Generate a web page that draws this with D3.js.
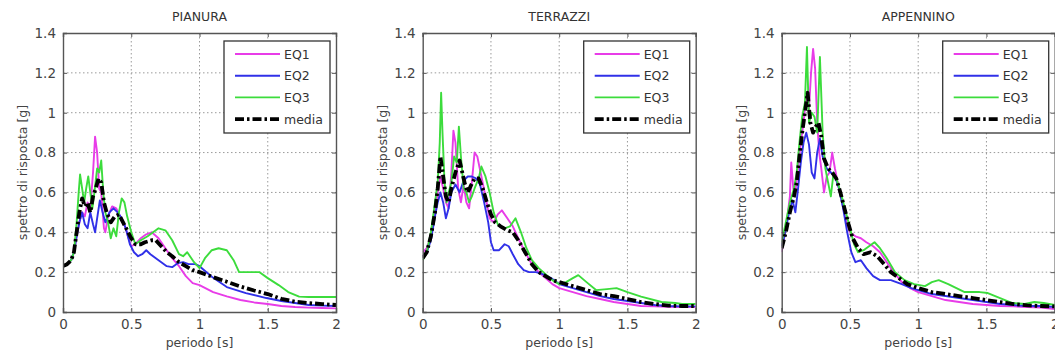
<!DOCTYPE html>
<html>
<head>
<meta charset="utf-8">
<script src="https://cdn.jsdelivr.net/npm/d3@7"></script>
<style>
  html, body { margin: 0; padding: 0; background: #fff; }
  svg { display: block; font-family: "DejaVu Sans", "Liberation Sans", Arial, sans-serif; }
</style>
</head>
<body>
<svg id="chart" width="1055" height="358"></svg>
<script>
// ---------------- DATA ----------------
const panelTitles = ["PIANURA", "TERRAZZI", "APPENNINO"];
const seriesNames = ["EQ1", "EQ2", "EQ3", "media"];
const periodTicks = [0, 0.5, 1, 1.5, 2];
const valueTicks = [0, 0.2, 0.4, 0.6, 0.8, 1, 1.2, 1.4];
const xLabel = "periodo [s]";
const yLabel = "spettro di risposta [g]";

// [periodo (s), spettro (g)]
const pianuraEQ1 = [[0,0.23],[0.03,0.24],[0.06,0.26],[0.08,0.3],[0.1,0.38],[0.12,0.45],[0.14,0.5],[0.16,0.48],[0.18,0.55],[0.2,0.52],[0.22,0.7],[0.235,0.88],[0.25,0.8],[0.265,0.62],[0.28,0.6],[0.3,0.42],[0.31,0.4],[0.33,0.48],[0.36,0.53],[0.39,0.52],[0.42,0.48],[0.45,0.44],[0.48,0.37],[0.5,0.33],[0.53,0.34],[0.57,0.37],[0.61,0.39],[0.65,0.4],[0.7,0.37],[0.75,0.32],[0.8,0.27],[0.85,0.23],[0.9,0.18],[0.95,0.145],[1.0,0.135],[1.1,0.1],[1.2,0.078],[1.3,0.06],[1.4,0.048],[1.5,0.04],[1.6,0.03],[1.7,0.025],[1.8,0.022],[1.9,0.02],[2.0,0.018]];
const pianuraEQ2 = [[0,0.23],[0.03,0.24],[0.06,0.26],[0.08,0.3],[0.1,0.38],[0.12,0.45],[0.14,0.5],[0.16,0.44],[0.18,0.42],[0.2,0.5],[0.22,0.44],[0.235,0.4],[0.25,0.47],[0.27,0.56],[0.29,0.5],[0.31,0.45],[0.34,0.5],[0.37,0.52],[0.4,0.5],[0.43,0.47],[0.46,0.42],[0.49,0.34],[0.52,0.3],[0.55,0.28],[0.58,0.29],[0.61,0.31],[0.64,0.29],[0.68,0.27],[0.72,0.25],[0.76,0.23],[0.8,0.225],[0.84,0.245],[0.88,0.25],[0.92,0.24],[0.97,0.24],[1.0,0.23],[1.09,0.177],[1.2,0.125],[1.34,0.095],[1.49,0.07],[1.6,0.055],[1.7,0.045],[1.8,0.035],[1.9,0.032],[2.0,0.03]];
const pianuraEQ3 = [[0,0.23],[0.03,0.24],[0.06,0.26],[0.08,0.3],[0.1,0.45],[0.115,0.6],[0.125,0.69],[0.14,0.62],[0.155,0.55],[0.17,0.62],[0.185,0.68],[0.2,0.6],[0.215,0.52],[0.23,0.6],[0.25,0.72],[0.265,0.7],[0.28,0.76],[0.295,0.6],[0.31,0.5],[0.33,0.45],[0.35,0.37],[0.37,0.42],[0.39,0.38],[0.41,0.5],[0.43,0.57],[0.45,0.55],[0.47,0.48],[0.5,0.4],[0.53,0.34],[0.57,0.36],[0.62,0.38],[0.66,0.4],[0.7,0.42],[0.75,0.41],[0.8,0.36],[0.85,0.29],[0.88,0.28],[0.91,0.3],[0.96,0.25],[1.0,0.22],[1.04,0.27],[1.09,0.31],[1.14,0.32],[1.2,0.31],[1.25,0.26],[1.29,0.2],[1.35,0.2],[1.44,0.2],[1.5,0.17],[1.58,0.135],[1.65,0.1],[1.73,0.077],[1.8,0.075],[2.0,0.075]];
const pianuraMedia = [[0,0.23],[0.03,0.24],[0.06,0.26],[0.08,0.3],[0.1,0.4],[0.12,0.5],[0.14,0.57],[0.16,0.53],[0.18,0.55],[0.2,0.5],[0.22,0.58],[0.24,0.62],[0.26,0.67],[0.28,0.65],[0.3,0.55],[0.32,0.5],[0.35,0.45],[0.38,0.48],[0.41,0.49],[0.44,0.45],[0.47,0.41],[0.5,0.37],[0.53,0.34],[0.57,0.34],[0.6,0.35],[0.65,0.36],[0.68,0.36],[0.72,0.33],[0.76,0.3],[0.8,0.28],[0.85,0.25],[0.9,0.23],[0.95,0.21],[1.0,0.2],[1.1,0.175],[1.2,0.152],[1.3,0.128],[1.4,0.108],[1.5,0.09],[1.6,0.066],[1.7,0.052],[1.8,0.045],[1.9,0.04],[2.0,0.035]];

const terrazziEQ1 = [[0,0.3],[0.03,0.32],[0.06,0.38],[0.09,0.5],[0.11,0.6],[0.13,0.68],[0.15,0.62],[0.17,0.55],[0.19,0.52],[0.21,0.7],[0.225,0.91],[0.24,0.85],[0.26,0.62],[0.28,0.55],[0.3,0.64],[0.32,0.55],[0.34,0.52],[0.36,0.65],[0.38,0.8],[0.4,0.78],[0.43,0.68],[0.46,0.58],[0.49,0.47],[0.52,0.45],[0.55,0.49],[0.58,0.51],[0.62,0.47],[0.66,0.43],[0.7,0.37],[0.75,0.3],[0.8,0.24],[0.85,0.2],[0.9,0.17],[0.95,0.14],[1.0,0.12],[1.1,0.1],[1.2,0.08],[1.3,0.065],[1.4,0.05],[1.5,0.04],[1.6,0.03],[1.7,0.028],[1.8,0.026],[1.9,0.025],[2.0,0.025]];
const terrazziEQ2 = [[0,0.28],[0.03,0.3],[0.06,0.36],[0.09,0.48],[0.11,0.55],[0.13,0.6],[0.15,0.55],[0.17,0.47],[0.19,0.52],[0.21,0.6],[0.24,0.64],[0.27,0.6],[0.3,0.66],[0.33,0.68],[0.36,0.68],[0.39,0.67],[0.42,0.64],[0.45,0.55],[0.48,0.45],[0.5,0.35],[0.52,0.31],[0.56,0.31],[0.6,0.34],[0.63,0.33],[0.66,0.29],[0.7,0.24],[0.74,0.21],[0.78,0.2],[0.83,0.2],[0.88,0.19],[0.94,0.17],[1.0,0.14],[1.1,0.12],[1.2,0.1],[1.3,0.08],[1.4,0.065],[1.5,0.055],[1.6,0.045],[1.7,0.035],[1.8,0.03],[1.9,0.028],[2.0,0.028]];
const terrazziEQ3 = [[0,0.26],[0.03,0.3],[0.06,0.4],[0.09,0.55],[0.11,0.65],[0.125,0.85],[0.135,1.1],[0.145,0.9],[0.16,0.65],[0.175,0.55],[0.19,0.6],[0.21,0.65],[0.23,0.78],[0.25,0.75],[0.265,0.93],[0.28,0.78],[0.3,0.62],[0.32,0.6],[0.34,0.55],[0.36,0.58],[0.38,0.62],[0.41,0.67],[0.43,0.73],[0.46,0.68],[0.49,0.6],[0.52,0.5],[0.55,0.44],[0.6,0.42],[0.64,0.43],[0.68,0.47],[0.72,0.4],[0.76,0.32],[0.8,0.26],[0.85,0.22],[0.9,0.19],[0.95,0.16],[1.0,0.14],[1.05,0.15],[1.1,0.17],[1.14,0.185],[1.2,0.15],[1.27,0.11],[1.35,0.115],[1.42,0.12],[1.5,0.1],[1.6,0.077],[1.75,0.05],[1.85,0.045],[1.9,0.04],[2.0,0.04]];
const terrazziMedia = [[0,0.27],[0.03,0.3],[0.06,0.38],[0.09,0.5],[0.11,0.62],[0.13,0.78],[0.15,0.68],[0.17,0.58],[0.19,0.55],[0.21,0.62],[0.24,0.7],[0.27,0.76],[0.29,0.7],[0.31,0.64],[0.33,0.6],[0.35,0.63],[0.38,0.67],[0.41,0.67],[0.44,0.62],[0.47,0.55],[0.5,0.49],[0.53,0.45],[0.57,0.43],[0.62,0.41],[0.66,0.4],[0.7,0.36],[0.75,0.3],[0.8,0.24],[0.85,0.2],[0.9,0.18],[0.95,0.16],[1.0,0.15],[1.1,0.13],[1.2,0.11],[1.3,0.09],[1.4,0.08],[1.5,0.065],[1.6,0.05],[1.7,0.04],[1.8,0.032],[1.9,0.03],[2.0,0.03]];

const appenninoEQ1 = [[0,0.3],[0.02,0.38],[0.04,0.47],[0.06,0.58],[0.07,0.75],[0.085,0.62],[0.1,0.6],[0.12,0.72],[0.14,0.85],[0.16,0.95],[0.18,1.1],[0.2,1.02],[0.215,1.2],[0.23,1.32],[0.245,1.22],[0.26,0.95],[0.275,0.8],[0.29,0.72],[0.31,0.6],[0.33,0.68],[0.35,0.7],[0.37,0.8],[0.39,0.72],[0.41,0.65],[0.44,0.56],[0.47,0.46],[0.5,0.4],[0.54,0.38],[0.58,0.37],[0.62,0.35],[0.67,0.33],[0.72,0.3],[0.77,0.25],[0.82,0.2],[0.88,0.15],[0.94,0.12],[1.0,0.1],[1.1,0.08],[1.2,0.06],[1.3,0.05],[1.4,0.04],[1.5,0.035],[1.6,0.03],[1.7,0.028],[1.8,0.025],[1.9,0.022],[2.0,0.015]];
const appenninoEQ2 = [[0,0.33],[0.02,0.38],[0.04,0.45],[0.06,0.52],[0.08,0.56],[0.1,0.5],[0.12,0.62],[0.14,0.75],[0.16,0.85],[0.18,0.9],[0.2,0.84],[0.22,0.7],[0.24,0.67],[0.26,0.8],[0.28,0.87],[0.3,0.78],[0.33,0.72],[0.36,0.7],[0.39,0.68],[0.42,0.62],[0.45,0.52],[0.48,0.4],[0.51,0.3],[0.54,0.25],[0.58,0.26],[0.62,0.22],[0.67,0.18],[0.72,0.16],[0.8,0.16],[0.88,0.14],[0.95,0.12],[1.0,0.11],[1.1,0.09],[1.2,0.08],[1.3,0.07],[1.4,0.06],[1.5,0.05],[1.6,0.04],[1.7,0.035],[1.8,0.03],[1.9,0.03],[2.0,0.025]];
const appenninoEQ3 = [[0,0.35],[0.03,0.45],[0.06,0.55],[0.09,0.62],[0.11,0.7],[0.13,0.85],[0.15,0.98],[0.17,1.05],[0.185,1.33],[0.2,0.95],[0.22,1.0],[0.24,0.98],[0.26,0.9],[0.28,1.28],[0.3,0.9],[0.32,0.72],[0.34,0.65],[0.36,0.58],[0.38,0.7],[0.41,0.65],[0.44,0.58],[0.47,0.5],[0.5,0.42],[0.53,0.34],[0.56,0.3],[0.6,0.31],[0.64,0.33],[0.68,0.35],[0.72,0.32],[0.77,0.27],[0.83,0.2],[0.9,0.16],[0.97,0.14],[1.05,0.13],[1.1,0.15],[1.15,0.16],[1.22,0.14],[1.34,0.1],[1.45,0.1],[1.51,0.095],[1.6,0.07],[1.69,0.045],[1.78,0.04],[1.85,0.05],[1.92,0.045],[2.0,0.035]];
const appenninoMedia = [[0,0.32],[0.03,0.4],[0.06,0.5],[0.09,0.58],[0.11,0.65],[0.13,0.78],[0.15,0.9],[0.17,1.0],[0.19,1.1],[0.21,0.95],[0.23,0.9],[0.25,0.93],[0.27,0.95],[0.29,0.88],[0.31,0.77],[0.34,0.72],[0.37,0.7],[0.4,0.67],[0.43,0.6],[0.46,0.52],[0.49,0.44],[0.52,0.37],[0.56,0.32],[0.6,0.29],[0.65,0.3],[0.7,0.28],[0.75,0.24],[0.8,0.2],[0.86,0.17],[0.92,0.14],[1.0,0.12],[1.1,0.1],[1.2,0.09],[1.3,0.08],[1.4,0.07],[1.5,0.06],[1.6,0.05],[1.7,0.04],[1.8,0.033],[1.9,0.03],[2.0,0.028]];

const panelSeries = [
  [pianuraEQ1, pianuraEQ2, pianuraEQ3, pianuraMedia],
  [terrazziEQ1, terrazziEQ2, terrazziEQ3, terrazziMedia],
  [appenninoEQ1, appenninoEQ2, appenninoEQ3, appenninoMedia]
];

// ---------------- STYLE / LAYOUT ----------------
const colors = ["#e83ce8", "#3030e8", "#3cdc3c", "#000000"];
const widths = [1.9, 1.9, 1.9, 3.8];
const dashes = [null, null, null, "9,3,2.5,3"];
const panelLeft = [63, 422.7, 781.7];
const plotW = 273, plotTop = 33, plotBottom = 312;
const textColor = "#444";

const svg = d3.select("#chart");

panelTitles.forEach((title, pi) => {
  const left = panelLeft[pi];
  const x = d3.scaleLinear().domain([0, 2]).range([left, left + plotW]);
  const y = d3.scaleLinear().domain([0, 1.4]).range([plotBottom, plotTop]);
  const g = svg.append("g");

  // grid
  g.append("g").selectAll("line").data(periodTicks.slice(1, -1)).join("line")
    .attr("x1", d => x(d)).attr("x2", d => x(d))
    .attr("y1", plotTop).attr("y2", plotBottom)
    .attr("stroke", "#9a9a9a").attr("stroke-width", 1).attr("stroke-dasharray", "1.5,2.5");
  g.append("g").selectAll("line").data(valueTicks.slice(1, -1)).join("line")
    .attr("x1", x(0)).attr("x2", x(2))
    .attr("y1", d => y(d)).attr("y2", d => y(d))
    .attr("stroke", "#9a9a9a").attr("stroke-width", 1).attr("stroke-dasharray", "1.5,2.5");

  // clip
  const clipId = "clip" + pi;
  svg.append("clipPath").attr("id", clipId).append("rect")
    .attr("x", x(0)).attr("y", plotTop).attr("width", plotW).attr("height", plotBottom - plotTop);

  // lines
  const line = d3.line().x(d => x(d[0])).y(d => y(d[1]));
  const lg = g.append("g").attr("clip-path", `url(#${clipId})`);
  panelSeries[pi].forEach((data, si) => {
    lg.append("path").datum(data)
      .attr("d", line)
      .attr("fill", "none")
      .attr("stroke", colors[si])
      .attr("stroke-width", widths[si])
      .attr("stroke-linejoin", "round")
      .attr("stroke-dasharray", dashes[si]);
  });

  // axes
  const ax = g.append("g");
  const xAxis = d3.axisBottom(x).tickValues(periodTicks).tickSize(-4).tickPadding(7).tickFormat(d3.format("~g"));
  const xAxisTop = d3.axisTop(x).tickValues(periodTicks).tickSize(-4).tickFormat("");
  const yAxis = d3.axisLeft(y).tickValues(valueTicks).tickSize(-4).tickPadding(7).tickFormat(d3.format("~g"));
  const yAxisRight = d3.axisRight(y).tickValues(valueTicks).tickSize(-4).tickFormat("");

  const gx = ax.append("g").attr("transform", `translate(0,${plotBottom})`).call(xAxis);
  const gxt = ax.append("g").attr("transform", `translate(0,${plotTop})`).call(xAxisTop);
  const gy = ax.append("g").attr("transform", `translate(${x(0)},0)`).call(yAxis);
  const gyr = ax.append("g").attr("transform", `translate(${x(2)},0)`).call(yAxisRight);
  [gx, gxt, gy, gyr].forEach(a => {
    a.attr("font-family", "DejaVu Sans, sans-serif");
    a.selectAll(".domain").attr("stroke", "#555").attr("stroke-width", 1.4);
    a.selectAll(".tick line").attr("stroke", "#555");
    a.selectAll("text").attr("fill", textColor).attr("font-size", 13.5);
  });

  // title
  g.append("text").attr("x", x(1)).attr("y", 21)
    .attr("text-anchor", "middle").attr("font-size", 12.5).attr("fill", "#333")
    .text(title);
  // x label
  g.append("text").attr("x", x(1)).attr("y", 347)
    .attr("text-anchor", "middle").attr("font-size", 12.5).attr("fill", textColor)
    .text(xLabel);
  // y label
  g.append("text")
    .attr("transform", `translate(${x(0) - 36},${(plotTop + plotBottom) / 2}) rotate(-90)`)
    .attr("text-anchor", "middle").attr("font-size", 12.5).attr("fill", textColor)
    .text(yLabel);

  // legend
  const lw = 106, lh = 92;
  const lx = x(2) - 6 - lw, ly = plotTop + 8;
  const leg = g.append("g").attr("transform", `translate(${lx},${ly})`);
  leg.append("rect").attr("width", lw).attr("height", lh)
    .attr("fill", "#fff").attr("stroke", "#333").attr("stroke-width", 1.3);
  seriesNames.forEach((name, si) => {
    const ry = 13 + si * 21.7;
    leg.append("line").attr("x1", 11).attr("x2", 56).attr("y1", ry).attr("y2", ry)
      .attr("stroke", colors[si]).attr("stroke-width", widths[si])
      .attr("stroke-dasharray", dashes[si]);
    leg.append("text").attr("x", 60).attr("y", ry + 4.5)
      .attr("font-size", 12.5).attr("fill", "#333").text(name);
  });
});
</script>
</body>
</html>
